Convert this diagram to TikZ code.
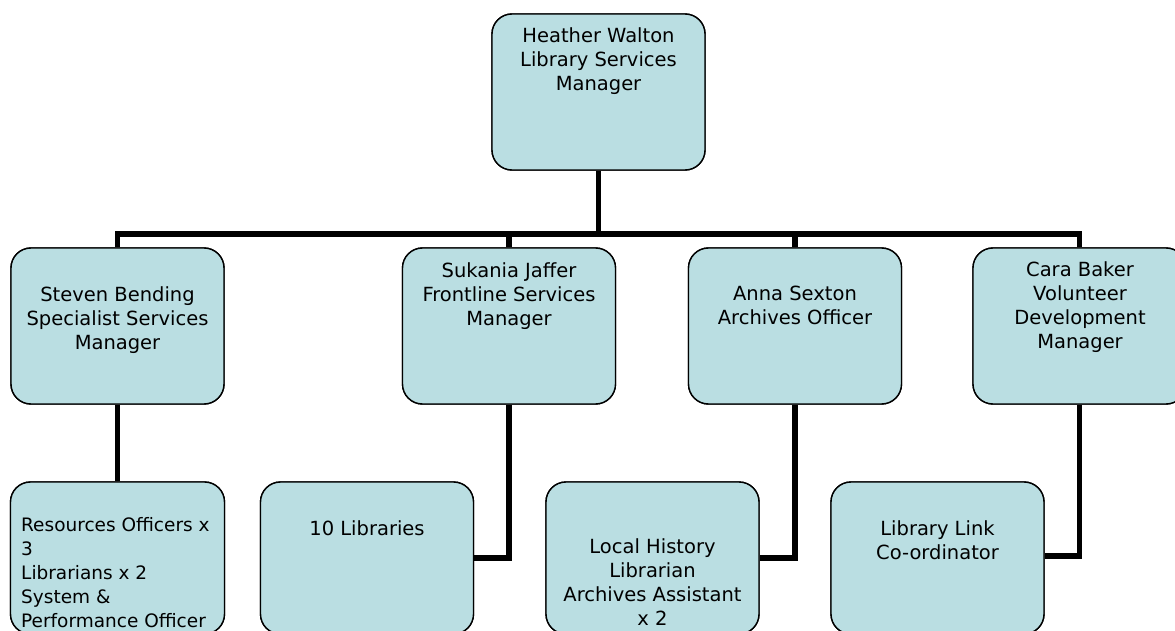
\documentclass[tikz,border=0pt]{standalone}
\usepackage{fontspec}
\setmainfont{DejaVu Sans}
\definecolor{boxblue}{RGB}{186,222,226}
\begin{document}
\begin{tikzpicture}[x=1pt,y=-1pt,
  box/.style={rectangle,draw=black,line width=1.4pt,fill=boxblue,
    rounded corners=20pt,minimum width=213pt,minimum height=156pt,inner sep=0pt},
  lowbox/.style={box,minimum height=152pt},
  txt/.style={anchor=north,inner sep=0pt,align=center,
    font=\fontsize{19.5}{24}\selectfont},
  conn/.style={line width=5.5pt,black}]
\useasboundingbox (0,0) rectangle (1175,631);
\clip (0,0) rectangle (1175,631);

% boxes (positions only; drawn after connectors)
\path
  (598.5,92)  node[box] (walton) {}
  (117.5,326) node[box] (bending) {}
  (509,326)   node[box] (jaffer) {}
  (795,326)   node[box] (sexton) {}
  (1079.5,326) node[box] (baker) {}
  (117.5,558) node[lowbox,minimum width=214pt] (resources) {}
  (367,558)   node[lowbox] (libraries) {}
  (652.5,558) node[lowbox] (history) {}
  (937.5,558) node[lowbox] (link) {};

% connectors
\coordinate (bar) at (0,234);
\draw[conn] (walton.south) -- (walton.south |- bar);
\draw[conn] (bending.north) |- (bar -| baker.north) -- (baker.north);
\draw[conn] (jaffer.north |- bar) -- (jaffer.north);
\draw[conn] (sexton.north |- bar) -- (sexton.north);
\draw[conn] (bending.south) -- (resources.north);
\draw[conn] (jaffer.south) |- (libraries.east);
\draw[conn] (sexton.south) |- (history.east);
\draw[conn] (baker.south) |- ([yshift=2pt]link.east);

% boxes on top of the connectors
\foreach \b in {walton,bending,jaffer,sexton,baker}
  \node[box] at (\b) {};
\node[lowbox,minimum width=214pt] at (resources) {};
\foreach \b in {libraries,history,link}
  \node[lowbox] at (\b) {};

% texts
\node[txt] (waltonT) at (598.5,27.5) {Heather Walton\\Library Services\\Manager};
\node[txt] (bendingT) at (117.5,286) {Steven Bending\\Specialist Services\\Manager};
\node[txt] (jafferT) at (509,262.5) {Sukania Jaffer\\Frontline Services\\Manager};
\node[txt] (sextonT) at (795,286) {Anna Sexton\\Archives Officer};
\node[txt] (bakerT) at (1080,261.5) {Cara Baker\\Volunteer\\Development\\Manager};
\node[txt,anchor=north west,align=left,font=\fontsize{18.5}{24}\selectfont]
  (resourcesT) at (21,517.5)
  {Resources Officers x\\3\\Librarians x 2\\System \&\\Performance Officer};
\node[txt] (librariesT) at (367,520) {10 Libraries};
\node[txt] (historyT) at (652.5,538) {Local History\\Librarian\\Archives Assistant\\x 2};
\node[txt] (linkT) at (937.5,520) {Library Link\\Co-ordinator};
\end{tikzpicture}
\end{document}
